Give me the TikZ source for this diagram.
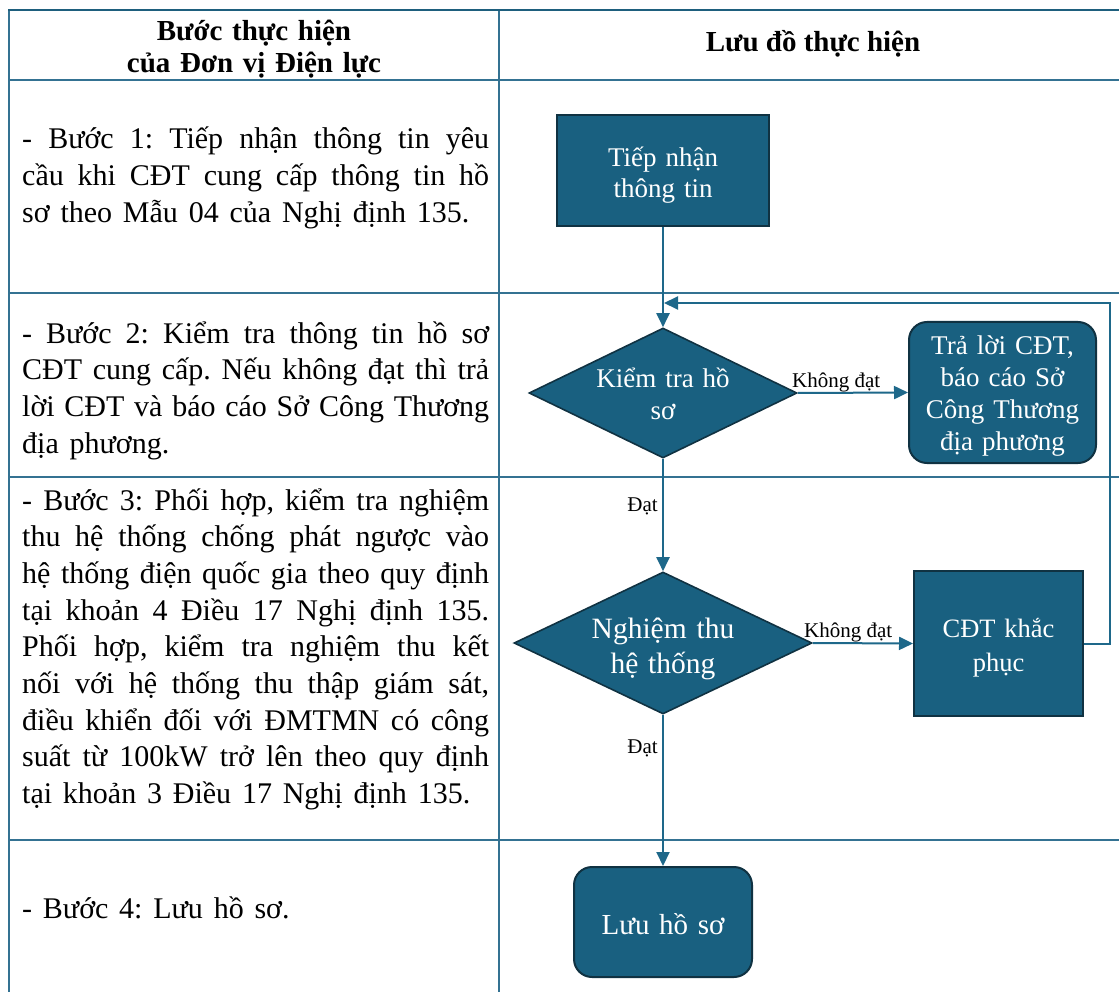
\documentclass[tikz,border=0pt]{standalone}
\usepackage{fontspec}
\setmainfont{Liberation Serif}
\usetikzlibrary{shapes.geometric,arrows.meta}
\definecolor{boxfill}{RGB}{25,96,128}
\definecolor{boxedge}{RGB}{16,50,66}
\definecolor{flow}{RGB}{30,104,138}
\definecolor{gridc}{RGB}{52,114,146}
\definecolor{gridtop}{RGB}{30,95,125}
\frenchspacing
\newcommand\myjustspace{\spaceskip=10.8pt plus 12pt minus 3.5pt\relax}
\begin{document}
\begin{tikzpicture}[x=1pt,y=-1pt,
  tab/.style={draw=gridc, line width=1.5pt},
  proc/.style={draw=boxedge, line width=2pt, fill=boxfill, text=white, align=center, inner sep=0pt},
  roundproc/.style={proc, rounded corners=18pt},
  decision/.style={diamond, aspect=2.1, draw=boxedge, line width=1.6pt, fill=boxfill, text=white, align=center, inner sep=0pt},
  flowline/.style={draw=flow, line width=2pt, -{Triangle[length=14pt,width=13pt]}},
  lbl/.style={font=\fontsize{21}{24}\selectfont, inner sep=0pt},
  para/.style={anchor=base west, text width=467pt, align=justify, inner sep=0pt,
    font=\fontsize{30}{36.7}\selectfont, execute at begin node=\myjustspace},
  head/.style={anchor=base, inner sep=0pt, font=\bfseries\fontsize{29}{32}\selectfont}
]
\useasboundingbox (0,0) rectangle (1119,992);
\fill[white] (0,0) rectangle (1119,992);

% table grid
\draw[tab] (9,80) -- (1119,80);
\draw[tab] (9,293) -- (1119,293);
\draw[tab] (9,477) -- (1119,477);
\draw[tab] (9,840) -- (1119,840);
\draw[tab] (9,10) -- (9,992);
\draw[tab] (499,10) -- (499,992);
\draw[draw=gridtop, line width=2.5pt] (8,10) -- (1119,10);

% headers
\node[head, text width=480pt, align=center] (h1) at (254,41) {Bước thực hiện\\của Đơn vị Điện lực};
\node[head] (h2) at (813,52) {Lưu đồ thực hiện};

% step descriptions
\node[para] (b1) at (22,149) {- Bước 1: Tiếp nhận thông tin yêu\linebreak cầu khi CĐT cung cấp thông tin hồ\linebreak sơ theo Mẫu 04 của Nghị định 135.};
\node[para] (b2) at (22,343) {- Bước 2: Kiểm tra thông tin hồ sơ\linebreak CĐT cung cấp. Nếu không đạt thì trả\linebreak lời CĐT và báo cáo Sở Công Thương\linebreak địa phương.};
\node[para] (b3) at (22,510) {- Bước 3: Phối hợp, kiểm tra nghiệm\linebreak thu hệ thống chống phát ngược vào\linebreak hệ thống điện quốc gia theo quy định\linebreak tại khoản 4 Điều 17 Nghị định 135.\linebreak Phối hợp, kiểm tra nghiệm thu kết\linebreak nối với hệ thống thu thập giám sát,\linebreak điều khiển đối với ĐMTMN có công\linebreak suất từ 100kW trở lên theo quy định\linebreak tại khoản 3 Điều 17 Nghị định 135.};
\node[para] (b4) at (22,918) {- Bước 4: Lưu hồ sơ.};

% flowchart nodes
\node[proc, minimum width=212pt, minimum height=111pt, text width=200pt, text height=0pt, text depth=8pt, font=\fontsize{27}{31}\selectfont] (t1) at (663,170.5) {Tiếp nhận\\thông tin};
\node[decision, minimum width=268pt, minimum height=130pt, text width=136pt, text height=0pt, text depth=11pt, font=\fontsize{27}{31.5}\selectfont] (d1) at (663,393) {Kiểm tra hồ\\sơ};
\node[roundproc, minimum width=187pt, minimum height=141pt, text width=180pt, text height=0pt, text depth=76pt, font=\fontsize{27}{31.9}\selectfont] (r1) at (1002.5,392.5) {Trả lời CĐT,\\báo cáo Sở\\Công Thương\\địa phương};
\node[decision, minimum width=298pt, minimum height=142pt, text width=150pt, text height=0pt, text depth=10pt, font=\fontsize{29.5}{35}\selectfont] (d2) at (663,643) {Nghiệm thu\\hệ thống};
\node[proc, minimum width=169pt, minimum height=145pt, text width=160pt, text height=0pt, text depth=13pt, font=\fontsize{26.5}{34}\selectfont] (r2) at (998.5,643.5) {CĐT khắc\\phục};
\node[roundproc, minimum width=178pt, minimum height=110pt, text width=170pt, text height=24pt, text depth=0pt, font=\fontsize{29}{34}\selectfont] (s) at (663,922) {Lưu hồ sơ};

\coordinate (fbc) at (1110,303);
\coordinate (fbe) at (664,303);

% connectors
\draw[flowline] (t1) -- (d1);
\draw[flowline] (d1.east) -- (r1.west);
\draw[flowline] (d1) -- (d2);
\draw[flowline] (d2.east) -- (r2.west);
\draw[flowline] (d2) -- (s);
\draw[flowline] (r2.east) -| (fbc) -- (fbe);

% labels
\node[lbl, anchor=base west] (l1) at (792,387) {Không đạt};
\node[lbl, anchor=base west] (l2) at (804,637) {Không đạt};
\node[lbl, anchor=base east] (l3) at (658,511) {Đạt};
\node[lbl, anchor=base east] (l4) at (658,753) {Đạt};
\end{tikzpicture}
\end{document}
